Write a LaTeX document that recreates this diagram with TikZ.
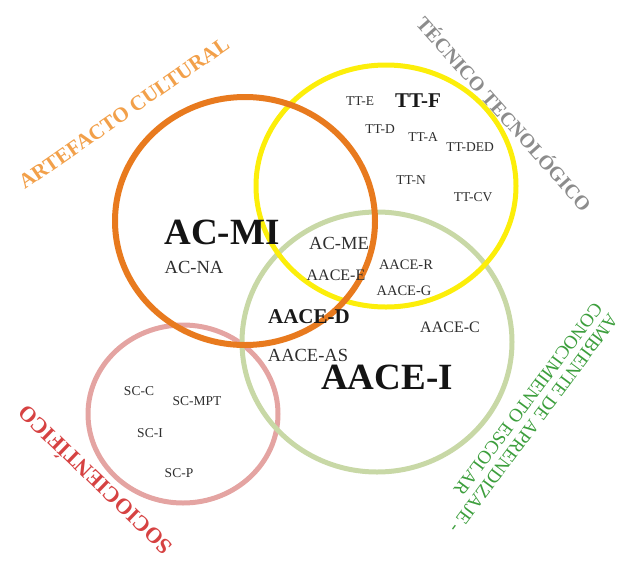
\documentclass[tikz,border=0pt]{standalone}
\usepackage{fontspec}
\setmainfont{Liberation Serif}
\definecolor{acring}{RGB}{232,122,30}
\definecolor{ttring}{RGB}{252,238,10}
\definecolor{aacering}{RGB}{200,216,166}
\definecolor{scring}{RGB}{228,164,162}
\definecolor{aclabel}{RGB}{242,160,74}
\definecolor{ttlabel}{RGB}{140,140,140}
\definecolor{aacelabel}{RGB}{60,158,60}
\definecolor{sclabel}{RGB}{214,66,66}

\begin{document}
\begin{tikzpicture}[
  x=1pt,y=-1pt,
  ring/.style={line width=5pt},
  item/.style={inner sep=0pt,text=black!82,font=\fontsize{13.5}{15}\selectfont},
  midi/.style={inner sep=0pt,text=black!82,font=\fontsize{16}{18}\selectfont},
  large/.style={inner sep=0pt,text=black!82,font=\fontsize{18.5}{20}\selectfont},
  strong/.style={inner sep=0pt,text=black!90,font=\bfseries\fontsize{21}{23}\selectfont},
  key/.style={inner sep=0pt,text=black!92,font=\bfseries\fontsize{37}{40}\selectfont},
  realm/.style={inner sep=0pt,font=\bfseries\fontsize{21}{24}\selectfont}
]
\useasboundingbox (0,0) rectangle (624,563);

% ===== Centres =====
\coordinate (sc) at (183,414);
\coordinate (aace) at (377,342);
\coordinate (tt) at (386,186);
\coordinate (ac) at (245,221);

% ===== Rings =====
\draw[ring,draw=scring] (sc) ellipse [x radius=95,y radius=89];
\draw[ring,draw=aacering] (aace) ellipse [x radius=135,y radius=130];
\draw[ring,draw=ttring] (tt) ellipse [x radius=130,y radius=121];
\draw[ring,line width=6pt,draw=acring] (ac) ellipse [x radius=130,y radius=124];

% ===== Artefacto cultural =====
\node[key] (acmi) at (222,232) {AC-MI};
\node[large] (acna) at (194,267) {AC-NA};
\node[large] (acme) at (339,243) {AC-ME};

% ===== Tecnico tecnologico =====
\node[item] (tte) at (360,101) {TT-E};
\node[strong] (ttf) at (418,101) {TT-F};
\node[item] (ttd) at (380,129) {TT-D};
\node[item] (tta) at (423,137) {TT-A};
\node[item] (ttded) at (470,147) {TT-DED};
\node[item] (ttn) at (411,180) {TT-N};
\node[item] (ttcv) at (473,197) {TT-CV};

% ===== Ambiente de aprendizaje =====
\node[midi] (aacee) at (336,275) {AACE-E};
\node[item,font=\fontsize{14.5}{16}\selectfont] (aacer) at (406,265) {AACE-R};
\node[item,font=\fontsize{14.5}{16}\selectfont] (aaceg) at (404,291) {AACE-G};
\node[strong] (aaced) at (309,317) {AACE-D};
\node[midi] (aacec) at (450,327) {AACE-C};
\node[large] (aaceas) at (308,355) {AACE-AS};
\node[key] (aacei) at (387,377) {AACE-I};

% ===== Sociocientifico =====
\node[item] (scc) at (139,391) {SC-C};
\node[item] (scmpt) at (197,401) {SC-MPT};
\node[item] (sci) at (150,433) {SC-I};
\node[item] (scp) at (179,473) {SC-P};

% ===== Outer labels =====
\node[realm,text=aclabel,rotate=34.7] (aclbl) at (124,113) {ARTEFACTO CULTURAL};
\node[realm,text=ttlabel,font=\bfseries\fontsize{20}{24}\selectfont,rotate=-48.4] (ttlbl) at (505,113) {TÉCNICO TECNOLÓGICO};
\node[realm,text=sclabel,font=\bfseries\fontsize{22}{24}\selectfont,rotate=136] (sclbl) at (94,481) {SOCIOCIENTÍFICO};
\node[realm,text=aacelabel,font=\fontsize{18.8}{19}\selectfont,align=left,rotate=-126.7] (aacelbl) at (526,418) {AMBIENTE DE APRENDIZAJE -\\CONOCIMIENTO ESCOLAR};

\end{tikzpicture}
\end{document}
